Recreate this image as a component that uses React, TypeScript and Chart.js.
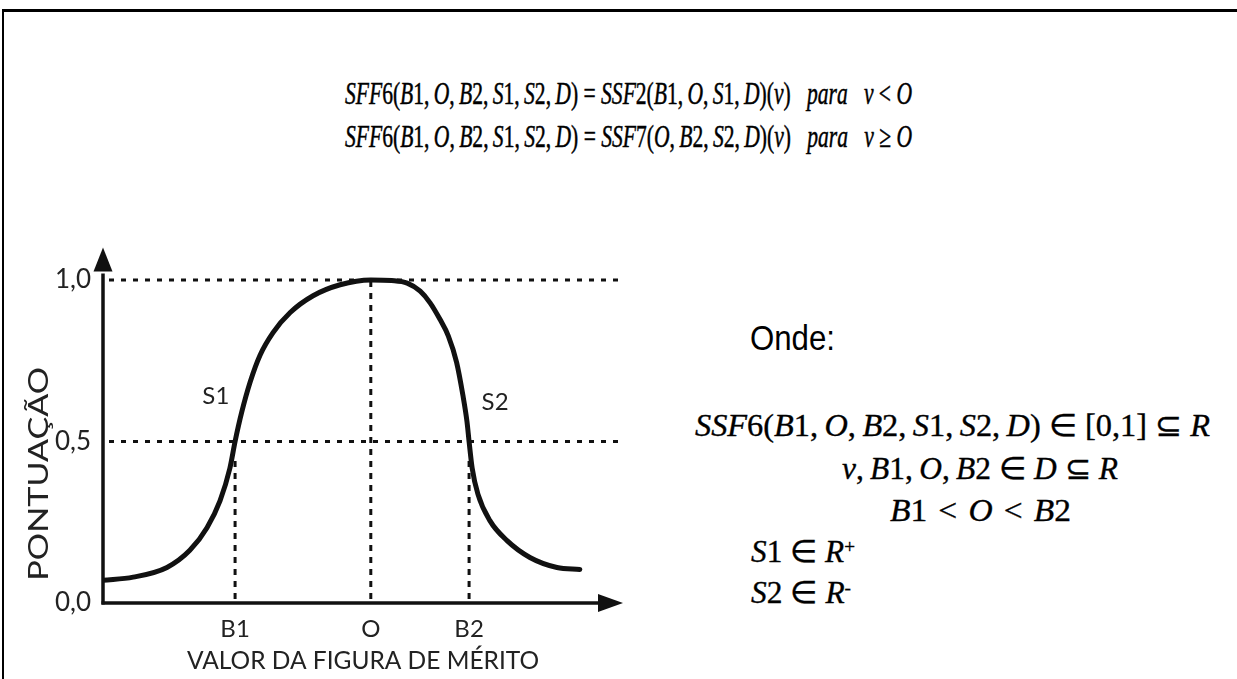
import React, { useEffect, useLayoutEffect, useRef } from 'react';
import { Chart, registerables } from 'chart.js';

Chart.register(...registerables);

// Score curve: merit-figure value (arbitrary units along the horizontal axis) -> score
const curveX = [0, 0.58, 1.23, 1.67, 2.0, 2.25, 2.44, 2.54, 2.67, 2.83, 3.02, 3.27, 3.6, 4.04, 4.56, 5.15, 5.55, 5.85, 6.1, 6.29, 6.48, 6.64, 6.8, 6.92, 7.0, 7.04, 7.1, 7.21, 7.44, 7.77, 8.21, 8.73, 9.17];
const curveY = [0.07, 0.08, 0.11, 0.163, 0.233, 0.316, 0.417, 0.5, 0.592, 0.684, 0.767, 0.837, 0.899, 0.951, 0.985, 1.0, 0.998, 0.99, 0.965, 0.929, 0.878, 0.827, 0.745, 0.644, 0.561, 0.5, 0.417, 0.337, 0.255, 0.193, 0.141, 0.11, 0.104];

// Reference points on the merit axis (B1, optimum O, B2) and how high their guides rise
const markerLabels = ['B1', 'O', 'B2'];
const markerValues = [2.54, 5.15, 7.04];
const markerReach = [0.45, 1.0, 0.45];

// Score axis ticks and the dotted reference levels
const yTickValues = [0, 0.5, 1.0];
const yTickLabels = ['0,0', '0,5', '1,0'];
const guideLevels = [0.5, 1.0];

// Slope annotations
const slopeLabels = ['S1', 'S2'];
const slopeX = [2.17, 7.54];
const slopeY = [0.64, 0.62];

const X_MIN = 0;
const X_MAX = 10;
const Y_MIN = 0;
const Y_MAX = 1.1;

const xTitle = 'VALOR DA FIGURA DE MÉRITO';
const yTitle = 'PONTUAÇÃO';

const INK = '#111';
const LABEL_FONT = 'Lato, "Open Sans", sans-serif';

const decor = {
  id: 'decor',
  beforeDatasetsDraw(chart: any) {
    const { ctx, chartArea, scales } = chart;
    const x = scales.x;
    const y = scales.y;
    ctx.save();
    ctx.strokeStyle = INK;
    ctx.lineWidth = 3;
    ctx.lineCap = 'butt';
    ctx.setLineDash([5, 7]);
    guideLevels.forEach((v) => {
      const py = y.getPixelForValue(v);
      ctx.beginPath();
      ctx.moveTo(x.getPixelForValue(X_MIN) + 6, py);
      ctx.lineTo(chartArea.right, py);
      ctx.stroke();
    });
    ctx.setLineDash([6, 6]);
    markerValues.forEach((v, i) => {
      const px = x.getPixelForValue(v);
      ctx.beginPath();
      ctx.moveTo(px, y.getPixelForValue(0) - 4);
      ctx.lineTo(px, y.getPixelForValue(markerReach[i]));
      ctx.stroke();
    });
    ctx.restore();
  },
  afterDatasetsDraw(chart: any) {
    const { ctx, chartArea, scales } = chart;
    const x = scales.x;
    const y = scales.y;
    const x0 = x.getPixelForValue(X_MIN);
    const y0 = y.getPixelForValue(0);
    ctx.save();
    ctx.setLineDash([]);
    ctx.strokeStyle = INK;
    ctx.fillStyle = INK;
    ctx.lineWidth = 3.5;

    // vertical axis with arrow head
    const yTip = chartArea.top;
    const yBase = yTip + 24;
    ctx.beginPath();
    ctx.moveTo(x0, y0 + 1.5);
    ctx.lineTo(x0, yBase + 2);
    ctx.stroke();
    ctx.beginPath();
    ctx.moveTo(x0, yTip);
    ctx.lineTo(x0 - 9.5, yBase);
    ctx.lineTo(x0 + 9.5, yBase);
    ctx.closePath();
    ctx.fill();

    // horizontal axis with arrow head
    const xTip = chartArea.right;
    const xBase = xTip - 25;
    ctx.beginPath();
    ctx.moveTo(x0 - 1.5, y0);
    ctx.lineTo(xBase + 2, y0);
    ctx.stroke();
    ctx.beginPath();
    ctx.moveTo(xTip, y0);
    ctx.lineTo(xBase, y0 - 9);
    ctx.lineTo(xBase, y0 + 9);
    ctx.closePath();
    ctx.fill();

    // slope labels
    ctx.fillStyle = '#222';
    ctx.font = `24px ${LABEL_FONT}`;
    ctx.textAlign = 'center';
    ctx.textBaseline = 'middle';
    slopeLabels.forEach((t, i) => {
      ctx.fillText(t, x.getPixelForValue(slopeX[i]), y.getPixelForValue(slopeY[i]));
    });

    // vertical axis title, stretched along its reading direction
    ctx.font = `26px ${LABEL_FONT}`;
    const w = ctx.measureText(yTitle).width;
    const targetLen = 214;
    ctx.translate(x0 - 63, y.getPixelForValue(0.4));
    ctx.rotate(-Math.PI / 2);
    ctx.scale(targetLen / w, 1);
    ctx.fillText(yTitle, 0, 0);
    ctx.restore();
  },
};

const MATH_FONT = '"Liberation Serif", "Times New Roman", serif';

function MathText({ text }: { text: string }) {
  const parts = text.split(/([A-Za-z]+)/);
  return (
    <>
      {parts.map((p, i) =>
        /^[A-Za-z]+$/.test(p) ? (
          <i key={i}>{p}</i>
        ) : (
          <span key={i}>{p}</span>
        )
      )}
    </>
  );
}

// A single formula line laid out to a given span: left edge, vertical centre, width
function FitLine(props: {
  left: number;
  centerY: number;
  width: number;
  fontSize: number;
  scaleY?: number;
  fontFamily?: string;
  stroke?: number;
  children: React.ReactNode;
}) {
  const { left, centerY, width, fontSize, scaleY = 1, fontFamily = MATH_FONT, stroke = 0.35, children } = props;
  const ref = useRef<HTMLDivElement | null>(null);
  useLayoutEffect(() => {
    const el = ref.current;
    if (!el) return;
    el.style.transform = 'none';
    const natural = el.getBoundingClientRect().width;
    el.style.transform = `scale(${width / natural}, ${scaleY})`;
  }, [width, scaleY, fontSize]);
  return (
    <div
      ref={ref}
      style={{
        position: 'absolute',
        left,
        top: centerY - 20,
        height: 40,
        lineHeight: '40px',
        fontFamily,
        fontSize,
        whiteSpace: 'nowrap',
        color: '#000',
        WebkitTextStroke: `${stroke}px #000`,
        transformOrigin: 'left center',
      }}
    >
      {children}
    </div>
  );
}

const T = '\u2009';
const M = '\u2004';
const topLine1 = `SFF6(B1,${T}O,${T}B2,${T}S1,${T}S2,${T}D) = SSF2(B1,${T}O,${T}S1,${T}D)(v)\u2002 para\u2002 v < O`;
const topLine2 = `SFF6(B1,${T}O,${T}B2,${T}S1,${T}S2,${T}D) = SSF7(O,${T}B2,${T}S2,${T}D)(v)\u2002 para\u2002 v \u2265 O`;
const defLineA = `SSF6(B1,${T}O,${T}B2,${T}S1,${T}S2,${T}D) \u2208 [0,1] \u2286 R`;
const defLineB = `v,${T}B1,${T}O,${T}B2 \u2208 D \u2286 R`;
const defLineC = `B1${M}<${M}O${M}<${M}B2`;

const supStyle: React.CSSProperties = { fontSize: 19, verticalAlign: '0.5em', lineHeight: 0 };

export default function App() {
  const canvasRef = useRef<HTMLCanvasElement | null>(null);

  useEffect(() => {
    const canvas = canvasRef.current;
    if (!canvas) return;
    const chart = new Chart(canvas, {
      type: 'line',
      data: {
        datasets: [
          {
            data: curveX.map((v, i) => ({ x: v, y: curveY[i] })),
            borderColor: INK,
            borderWidth: 5,
            pointRadius: 0,
            fill: false,
            cubicInterpolationMode: 'monotone',
            borderCapStyle: 'round',
            borderJoinStyle: 'round',
          },
        ],
      },
      options: {
        animation: false,
        responsive: false,
        maintainAspectRatio: false,
        events: [],
        layout: { padding: { top: 24, right: 37, bottom: 0, left: 0 } },
        plugins: {
          legend: { display: false },
          tooltip: { enabled: false },
          title: { display: false },
        },
        scales: {
          x: {
            type: 'linear',
            min: X_MIN,
            max: X_MAX,
            grid: { display: false, drawTicks: false },
            border: { display: false },
            afterBuildTicks: (scale: any) => {
              scale.ticks = markerValues.map((v) => ({ value: v }));
            },
            afterFit: (scale: any) => {
              scale.height = 76;
            },
            ticks: {
              autoSkip: false,
              maxRotation: 0,
              padding: 12,
              color: '#222',
              font: { family: LABEL_FONT, size: 24 },
              callback: (_v: any, i: number) => markerLabels[i],
            },
            title: {
              display: true,
              text: xTitle,
              color: '#222',
              font: { family: LABEL_FONT, size: 24.5 },
              padding: { top: 0, bottom: 3 },
            },
          },
          y: {
            type: 'linear',
            min: Y_MIN,
            max: Y_MAX,
            grid: { display: false, drawTicks: false },
            border: { display: false },
            afterBuildTicks: (scale: any) => {
              scale.ticks = yTickValues.map((v) => ({ value: v }));
            },
            afterFit: (scale: any) => {
              scale.width = 103;
            },
            ticks: {
              padding: 12,
              color: '#222',
              font: { family: LABEL_FONT, size: 26 },
              callback: (_v: any, i: number) => yTickLabels[i],
            },
          },
        },
      },
      plugins: [decor],
    } as any);
    return () => chart.destroy();
  }, []);

  return (
    <div
      style={{
        position: 'fixed',
        left: 0,
        top: 0,
        width: 1237,
        height: 679,
        background: '#fff',
        overflow: 'hidden',
      }}
    >
      {/* page frame: top and left edges only */}
      <div style={{ position: 'absolute', left: 2, top: 9, width: 1235, height: 2.5, background: '#000' }} />
      <div style={{ position: 'absolute', left: 2, top: 9, width: 2, height: 670, background: '#000' }} />

      <FitLine left={345} centerY={94} width={567} fontSize={22.5} scaleY={1.4}>
        <MathText text={topLine1} />
      </FitLine>
      <FitLine left={345} centerY={137} width={567} fontSize={22.5} scaleY={1.4}>
        <MathText text={topLine2} />
      </FitLine>

      <FitLine
        left={750}
        centerY={339}
        width={85}
        fontSize={31}
        scaleY={1.12}
        stroke={0}
        fontFamily={'"Liberation Sans", Arial, sans-serif'}
      >
        Onde:
      </FitLine>
      <FitLine left={695} centerY={426} width={515} fontSize={31}>
        <MathText text={defLineA} />
      </FitLine>
      <FitLine left={842} centerY={469} width={276} fontSize={31}>
        <MathText text={defLineB} />
      </FitLine>
      <FitLine left={890} centerY={511} width={181} fontSize={31}>
        <MathText text={defLineC} />
      </FitLine>
      <FitLine left={751} centerY={552} width={104} fontSize={31}>
        <MathText text={'S1 \u2208 '} />
        <i>R</i>
        <sup style={supStyle}>+</sup>
      </FitLine>
      <FitLine left={751} centerY={593} width={100} fontSize={31}>
        <MathText text={'S2 \u2208 '} />
        <i>R</i>
        <sup style={supStyle}>-</sup>
      </FitLine>

      <canvas
        ref={canvasRef}
        width={660}
        height={459}
        style={{ position: 'absolute', left: 0, top: 220, width: 660, height: 459, display: 'block' }}
      />

      {/* keep the right edge of the page clean */}
      <div style={{ position: 'absolute', left: 1232, top: 12, width: 5, height: 667, background: '#fff' }} />
    </div>
  );
}
